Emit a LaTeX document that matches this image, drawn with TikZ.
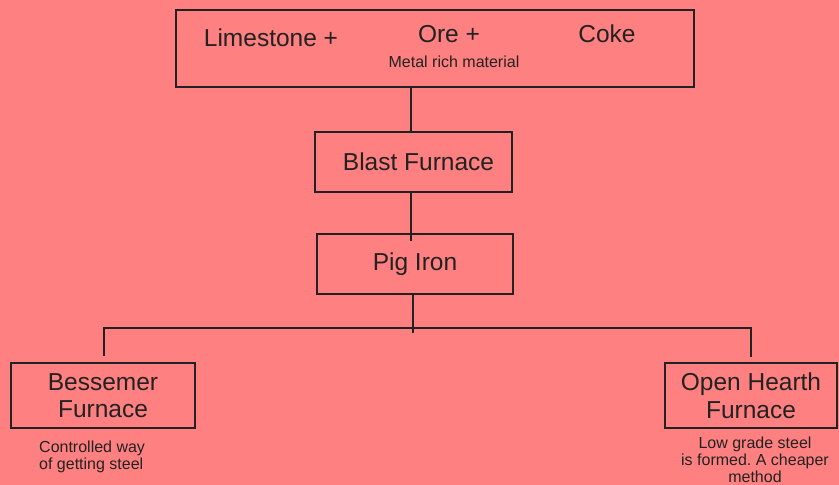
\documentclass[tikz,border=0pt]{standalone}
\usepackage{fontspec}
\setmainfont{Liberation Sans}
\frenchspacing
\definecolor{bg}{HTML}{FF8080}
\definecolor{ink}{HTML}{222222}
\begin{document}
\begin{tikzpicture}[x=1pt,y=-1pt,
  box/.style={draw=ink,line width=2pt,inner sep=0pt,text=ink,align=center},
  big/.style={font=\fontsize{24.5}{27.5}\selectfont},
  small/.style={font=\fontsize{16}{17}\selectfont,text=ink,inner sep=0pt},
  wire/.style={draw=ink,line width=2pt}]
\fill[bg] (0,0) rectangle (839,485);
\useasboundingbox (0,0) rectangle (839,485);
% boxes
\node[box,minimum width=518pt,minimum height=77pt] (top) at (435,48.5) {};
\node[box,big,minimum width=197pt,minimum height=60pt] (blast) at (413.5,161.5) {\hspace*{10pt}Blast Furnace};
\node[box,big,minimum width=196pt,minimum height=60pt] (pig) at (415,264) {Pig Iron};
\node[box,big,minimum width=184pt,minimum height=65pt] (bess) at (103,395.5) {Bessemer\\Furnace};
\node[box,big,minimum width=172pt,minimum height=65pt] (open) at (751,395.5) {Open Hearth\\Furnace};
% texts in top box
\node[big,text=ink,inner sep=0pt,anchor=base] (lime) at (271,46) {Limestone +};
\node[big,text=ink,inner sep=0pt,anchor=base] (ore) at (449,42) {Ore +};
\node[big,text=ink,inner sep=0pt,anchor=base] (coke) at (607,42) {Coke};
\node[small,anchor=base] (metal) at (454,67) {Metal rich material};
% notes
\node[small,align=left,anchor=north west] (bnote) at (39,440.5) {Controlled way\\of getting steel};
\node[small,align=center,anchor=north] (onote) at (755,436.5) {Low grade steel\\is formed. A cheaper\\method};
% connectors
\coordinate (v1) at (411,0);
\coordinate (v2) at (413,0);
\coordinate (busL) at (104,328);
\coordinate (busR) at (751,328);
\coordinate (busM) at (413,333);
\draw[wire] (top.south -| v1) -- (blast.north -| v1);
\draw[wire] (blast.south -| v1) -- ([yshift=-8pt]pig.north -| v1);
\draw[wire] (pig.south -| v2) -- (busM);
\draw[wire] ([yshift=6pt]bess.north -| busL) -- (busL) -- (busR) -- ([yshift=5pt]open.north -| busR);
\end{tikzpicture}
\end{document}
